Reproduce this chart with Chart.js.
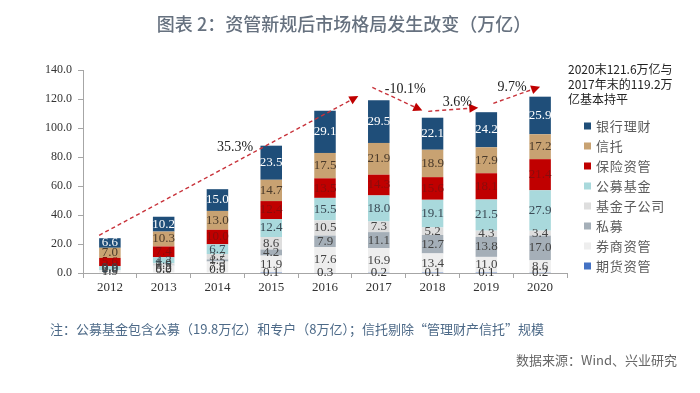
<!DOCTYPE html>
<html lang="zh">
<head>
<meta charset="UTF-8">
<title>资管新规后市场格局发生改变</title>
<script src="https://cdn.jsdelivr.net/npm/chart.js"></script>
<style>
  body { margin: 0; background: #fff; }
  #wrap { position: relative; width: 700px; height: 393px; overflow: hidden; }
  #chart { position: absolute; left: 0; top: 0; }
  .txt { position: absolute; font-family: "Noto Sans CJK SC", "Noto Sans", sans-serif; white-space: nowrap; }
  #title { left: 0; width: 688px; top: 10px; text-align: center; font-size: 18px; color: #66717f; font-weight: 500; }
  #note { left: 50px; top: 319px; font-size: 13px; color: #4d6a88; }
  #source { right: 23px; top: 350px; font-size: 13px; color: #666; }
</style>
</head>
<body>
<div id="wrap">
  <canvas id="chart" width="700" height="393"></canvas>
  <div class="txt" id="title">图表 2：资管新规后市场格局发生改变（万亿）</div>
  <div class="txt" id="note">注：公募基金包含公募（19.8万亿）和专户（8万亿）；信托剔除“管理财产信托”规模</div>
  <div class="txt" id="source">数据来源：Wind、兴业研究</div>
</div>
<script>
// data (万亿), stacked bottom -> top
const years = ['2012', '2013', '2014', '2015', '2016', '2017', '2018', '2019', '2020'];
const futuresAM      = [0.0, 0.0, 0.0, 0.1, 0.3, 0.2, 0.1, 0.1, 0.2];
const brokerAM       = [1.9, 5.2, 7.9, 11.9, 17.6, 16.9, 13.4, 11.0, 8.6];
const privateFund    = [0.0, 0.5, 1.5, 4.2, 7.9, 11.1, 12.7, 13.8, 17.0];
const fundSubsidiary = [0.0, 1.0, 3.7, 8.6, 10.5, 7.3, 5.2, 4.3, 3.4];
const publicFund     = [2.9, 4.2, 6.7, 12.4, 15.5, 18.0, 19.1, 21.5, 27.9];
const insuranceAM    = [5.6, 7.4, 10.0, 12.4, 13.5, 14.3, 15.6, 18.1, 21.4];
const trust          = [7.0, 10.3, 13.0, 14.7, 17.5, 21.9, 18.9, 17.9, 17.2];
const bankWM         = [6.6, 10.2, 15.0, 23.5, 29.1, 29.5, 22.1, 24.2, 25.9];

// growth arrows, in (category index, value) units
const arrowFrom = [[-0.2, 26], [4.88, 128], [5.92, 111.5], [7.13, 117]];
const arrowTo   = [[4.62, 122], [5.81, 112], [6.85, 114], [8.0, 128.5]];
const growthLabels = ['35.3%', '-10.1%', '3.6%', '9.7%'];
const growthAt = [[2.33, 86.9], [5.49, 126.4], [6.46, 117.4], [7.48, 127.8]];

const noteLines = ['2020末121.6万亿与', '2017年末的119.2万', '亿基本持平'];

function ds(label, data, color, textColor) {
  return { label: label, data: data, backgroundColor: color, textColor: textColor, stack: 's' };
}

const datasets = [
  ds('期货资管', futuresAM, '#4472c4', '#333'),
  ds('券商资管', brokerAM, '#eeeeee', '#444'),
  ds('私募', privateFund, '#a5afb8', '#444'),
  ds('基金子公司', fundSubsidiary, '#dedede', '#444'),
  ds('公募基金', publicFund, '#a9d9dc', '#3a4a55'),
  ds('保险资管', insuranceAM, '#c00000', '#8a0c0c'),
  ds('信托', trust, '#c8a272', '#4a3a2a'),
  ds('银行理财', bankWM, '#1f4e79', '#ffffff')
];

const labelsPlugin = {
  id: 'segLabels',
  afterDatasetsDraw(chart) {
    const ctx = chart.ctx;
    ctx.save();
    ctx.font = '13px "Liberation Serif", serif';
    ctx.textAlign = 'center';
    ctx.textBaseline = 'middle';
    chart.data.datasets.forEach((d, i) => {
      const meta = chart.getDatasetMeta(i);
      meta.data.forEach((bar, j) => {
        ctx.fillStyle = d.textColor;
        ctx.fillText(d.data[j].toFixed(1), bar.x, (bar.y + bar.base) / 2 - (d.data[j] === 0 ? 3 : 0));
      });
    });
    ctx.restore();
  }
};

const extrasPlugin = {
  id: 'extras',
  afterDraw(chart) {
    const ctx = chart.ctx;
    const xs = chart.scales.x, ys = chart.scales.y;
    ctx.save();
    // arrows
    ctx.strokeStyle = '#c8323a';
    ctx.fillStyle = '#c00000';
    ctx.lineWidth = 1.4;
    arrowFrom.forEach((p, k) => {
      const x1 = xs.getPixelForValue(p[0]), y1 = ys.getPixelForValue(p[1]);
      const x2 = xs.getPixelForValue(arrowTo[k][0]), y2 = ys.getPixelForValue(arrowTo[k][1]);
      const a = Math.atan2(y2 - y1, x2 - x1);
      const hl = 9;
      ctx.setLineDash([4, 3]);
      ctx.beginPath();
      ctx.moveTo(x1, y1);
      ctx.lineTo(x2 - hl * Math.cos(a), y2 - hl * Math.sin(a));
      ctx.stroke();
      ctx.setLineDash([]);
      ctx.beginPath();
      ctx.moveTo(x2, y2);
      ctx.lineTo(x2 - hl * Math.cos(a) + 4.5 * Math.sin(a), y2 - hl * Math.sin(a) - 4.5 * Math.cos(a));
      ctx.lineTo(x2 - hl * Math.cos(a) - 4.5 * Math.sin(a), y2 - hl * Math.sin(a) + 4.5 * Math.cos(a));
      ctx.closePath();
      ctx.fill();
    });
    ctx.font = '14px "Liberation Serif", serif';
    ctx.fillStyle = '#222';
    ctx.textAlign = 'center';
    ctx.textBaseline = 'middle';
    growthLabels.forEach((t, k) => {
      ctx.fillText(t, xs.getPixelForValue(growthAt[k][0]), ys.getPixelForValue(growthAt[k][1]));
    });
    // side note
    ctx.font = '12px "Noto Sans CJK SC", serif';
    ctx.textAlign = 'left';
    ctx.fillStyle = '#222';
    noteLines.forEach((t, k) => ctx.fillText(t, 568, 69 + k * 15));
    // legend, top item = top of stack
    ctx.font = '13px "Noto Sans CJK SC", sans-serif';
    const ds = chart.data.datasets.slice().reverse();
    ds.forEach((d, k) => {
      const y = 126 + k * 20;
      ctx.fillStyle = d.backgroundColor;
      ctx.fillRect(584, y - 3.5, 7, 7);
      ctx.fillStyle = '#5a5a5a';
      ctx.fillText(d.label.split('').join('\u200a'), 596, y);
    });
    ctx.restore();
  }
};

new Chart(document.getElementById('chart'), {
  type: 'bar',
  data: { labels: years, datasets: datasets },
  options: {
    responsive: false,
    animation: false,
    layout: { padding: { top: 70, right: 133, bottom: 100, left: 0 } },
    categoryPercentage: 1,
    barPercentage: 0.4,
    plugins: { legend: { display: false }, tooltip: { enabled: false } },
    scales: {
      x: {
        stacked: true,
        afterFit(s) { s.height = 20; },
        border: { color: '#a6a6a6' },
        grid: { display: true, drawOnChartArea: false, tickLength: 5, color: '#a6a6a6' },
        ticks: { color: '#333', padding: 2, font: { family: '"Liberation Serif", serif', size: 13 } }
      },
      y: {
        stacked: true,
        min: 0,
        max: 140,
        afterFit(s) { s.width = 83; },
        border: { color: '#a6a6a6' },
        grid: { display: true, drawOnChartArea: false, tickLength: 5, color: '#a6a6a6' },
        ticks: {
          stepSize: 20,
          color: '#333',
          padding: 6,
          font: { family: '"Liberation Serif", serif', size: 12 },
          callback: v => v.toFixed(1)
        }
      }
    }
  },
  plugins: [labelsPlugin, extrasPlugin]
});
</script>
</body>
</html>
